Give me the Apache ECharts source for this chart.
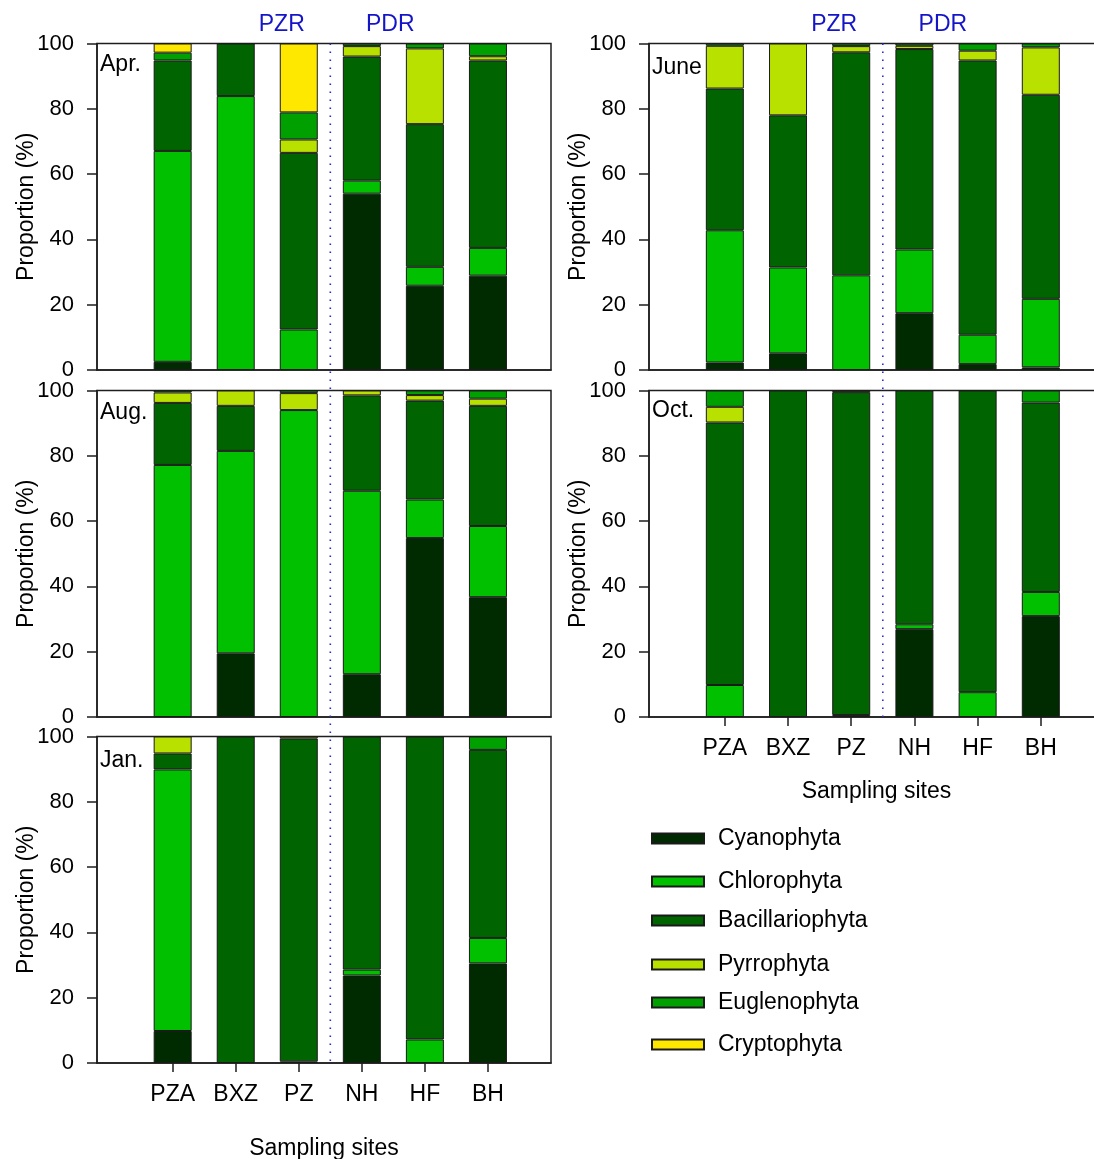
<!DOCTYPE html>
<html>
<head>
<meta charset="utf-8">
<script src="https://cdn.jsdelivr.net/npm/echarts@6/dist/echarts.min.js"></script>
<style>
html,body{margin:0;padding:0;background:#fff;}
#chart{width:1094px;height:1159px;}
</style>
</head>
<body>
<div id="chart"></div>
<script>
// ---------- data ----------
const sites = ['PZA', 'BXZ', 'PZ', 'NH', 'HF', 'BH'];
const groups = ['Cyanophyta', 'Chlorophyta', 'Bacillariophyta', 'Pyrrophyta', 'Euglenophyta', 'Cryptophyta'];
const months = ['Apr.', 'June', 'Aug.', 'Oct.', 'Jan.'];
const yTicks = [0, 20, 40, 60, 80, 100];
const regions = ['PZR', 'PDR'];

// values per site (PZA, BXZ, PZ, NH, HF, BH), in %
const aprCyanophyta      = [2.5, 0, 0, 54.0, 25.8, 28.9];
const aprChlorophyta     = [64.6, 83.9, 12.4, 4.0, 5.8, 8.5];
const aprBacillariophyta = [27.7, 16.1, 54.1, 38.0, 43.7, 57.4];
const aprPyrrophyta      = [0, 0, 4.1, 3.2, 23.2, 1.3];
const aprEuglenophyta    = [2.4, 0, 8.3, 0.8, 1.5, 3.9];
const aprCryptophyta     = [2.8, 0, 21.1, 0, 0, 0];

const junCyanophyta      = [2.3, 5.1, 0, 17.4, 1.8, 0.8];
const junChlorophyta     = [40.5, 26.3, 29.0, 19.5, 9.0, 21.0];
const junBacillariophyta = [43.4, 46.6, 68.3, 61.4, 84.0, 62.5];
const junPyrrophyta      = [13.1, 22.0, 1.9, 1.0, 3.0, 14.5];
const junEuglenophyta    = [0.7, 0, 0.8, 0.7, 2.2, 1.2];
const junCryptophyta     = [0, 0, 0, 0, 0, 0];

const augCyanophyta      = [0, 19.5, 0, 13.1, 54.8, 36.7];
const augChlorophyta     = [77.2, 62.0, 94.0, 56.2, 11.8, 21.8];
const augBacillariophyta = [19.0, 13.8, 0, 29.2, 30.3, 36.8];
const augPyrrophyta      = [3.2, 4.7, 5.2, 1.5, 1.7, 2.2];
const augEuglenophyta    = [0.6, 0, 0.8, 0, 1.4, 2.5];
const augCryptophyta     = [0, 0, 0, 0, 0, 0];

const octCyanophyta      = [0, 0, 0, 26.9, 0, 30.9];
const octChlorophyta     = [9.8, 0, 0.6, 1.5, 7.6, 7.4];
const octBacillariophyta = [80.4, 100, 98.9, 71.6, 92.4, 58.0];
const octPyrrophyta      = [4.8, 0, 0.5, 0, 0, 0];
const octEuglenophyta    = [5.0, 0, 0, 0, 0, 3.7];
const octCryptophyta     = [0, 0, 0, 0, 0, 0];

const janCyanophyta      = [9.8, 0, 0, 26.8, 0, 30.5];
const janChlorophyta     = [80.1, 0, 0.5, 1.8, 7.2, 7.8];
const janBacillariophyta = [4.9, 100, 98.9, 71.4, 92.8, 57.6];
const janPyrrophyta      = [5.2, 0, 0.6, 0, 0, 0];
const janEuglenophyta    = [0, 0, 0, 0, 0, 4.1];
const janCryptophyta     = [0, 0, 0, 0, 0, 0];

const monthData = [
  [aprCyanophyta, aprChlorophyta, aprBacillariophyta, aprPyrrophyta, aprEuglenophyta, aprCryptophyta],
  [junCyanophyta, junChlorophyta, junBacillariophyta, junPyrrophyta, junEuglenophyta, junCryptophyta],
  [augCyanophyta, augChlorophyta, augBacillariophyta, augPyrrophyta, augEuglenophyta, augCryptophyta],
  [octCyanophyta, octChlorophyta, octBacillariophyta, octPyrrophyta, octEuglenophyta, octCryptophyta],
  [janCyanophyta, janChlorophyta, janBacillariophyta, janPyrrophyta, janEuglenophyta, janCryptophyta]
];
const dividerAt = 2.5; // between PZ and NH

// ---------- styling / layout ----------
const FONT = '"Liberation Sans", Arial, sans-serif';
const colors = ['#002a00', '#00c000', '#006400', '#b9e100', '#00a000', '#ffe800'];
const layout = [
  {left: 97,  top: 43.5,  width: 454, height: 326.5, bottom: false, monthTop: 53,  nameGap: 0},
  {left: 649, top: 43.5,  width: 455, height: 326.5, bottom: false, monthTop: 56,  nameGap: 0},
  {left: 97,  top: 390.5, width: 454, height: 326.5, bottom: false, monthTop: 401, nameGap: 0},
  {left: 649, top: 390.5, width: 455, height: 326.5, bottom: true,  monthTop: 399, nameGap: 63},
  {left: 97,  top: 736.5, width: 454, height: 326.5, bottom: true,  monthTop: 749, nameGap: 74}
];
const legendRows = [839, 882, 921, 965, 1003, 1045];
const AX = '#1e1e1e';

const grids = [], xAxes = [], yAxes = [], series = [], titles = [];
layout.forEach((L, p) => {
  grids.push({left: L.left, top: L.top, width: L.width, height: L.height,
    show: true, borderColor: AX, borderWidth: 1.5, containLabel: false, outerBoundsMode: 'none'});
  xAxes.push({
    type: 'value', gridIndex: p, min: -1.2, max: 6,
    axisLine: {show: true, onZero: false, lineStyle: {color: AX, width: 1.5}},
    axisTick: {show: L.bottom, customValues: [0, 1, 2, 3, 4, 5], length: 9, lineStyle: {color: AX, width: 1.5}},
    axisLabel: {show: L.bottom, customValues: [0, 1, 2, 3, 4, 5], margin: 20, fontSize: 23, color: '#000', fontFamily: FONT,
      formatter: v => (sites[Math.round(v)] !== undefined && Math.abs(v - Math.round(v)) < 1e-6) ? sites[Math.round(v)] : ''},
    splitLine: {show: false},
    name: L.bottom ? 'Sampling sites' : '', nameLocation: 'middle', nameGap: L.nameGap, nameMoveOverlap: false,
    nameTextStyle: {fontSize: 23, color: '#000', fontFamily: FONT}
  });
  yAxes.push({
    type: 'value', gridIndex: p, min: yTicks[0], max: yTicks[yTicks.length - 1], interval: yTicks[1] - yTicks[0],
    axisLine: {show: true, onZero: false, lineStyle: {color: AX, width: 1.5}},
    axisTick: {show: true, length: 10, lineStyle: {color: AX, width: 1.5}},
    axisLabel: {margin: 23, fontSize: 22, color: '#000', fontFamily: FONT},
    splitLine: {show: false},
    name: 'Proportion (%)', nameLocation: 'middle', nameGap: 59, nameMoveOverlap: false,
    nameTextStyle: {fontSize: 23, color: '#000', fontFamily: FONT}
  });
  groups.forEach((g, k) => {
    series.push({
      type: 'bar', name: g, xAxisIndex: p, yAxisIndex: p, stack: 'm' + p,
      barWidth: 38, animation: false,
      encode: {x: 1, y: 0},
      itemStyle: {color: colors[k], borderColor: '#1a1a1a', borderWidth: 1},
      emphasis: {disabled: true},
      data: monthData[p][k].map((v, i) => [v > 0 ? v : null, i])
    });
  });
  titles.push({text: months[p], left: L.left + 3, top: L.monthTop, padding: 0,
    textStyle: {fontSize: 23, fontWeight: 'normal', color: '#000', fontFamily: FONT}});
});

const legends = groups.map((g, i) => ({
  data: [g], orient: 'vertical', left: 651, top: legendRows[i] - 12, padding: 0,
  itemWidth: 52, itemHeight: 10, icon: 'rect', selectedMode: false,
  textStyle: {fontSize: 23, color: '#000', fontFamily: FONT, padding: [0, 0, 0, 9]}
}));

const chart = echarts.init(document.getElementById('chart'), null, {renderer: 'canvas'});
chart.setOption({
  backgroundColor: '#fff',
  animation: false,
  title: titles,
  legend: legends,
  grid: grids,
  xAxis: xAxes,
  yAxis: yAxes,
  series: series
});

// divider lines and region labels, positioned through the axes
const graphics = [];
[[0, 4], [1, 3]].forEach(([topP, botP]) => {
  const x = chart.convertToPixel({xAxisIndex: topP}, dividerAt);
  const y1 = chart.convertToPixel({yAxisIndex: topP}, 100);
  const y2 = chart.convertToPixel({yAxisIndex: botP}, 0);
  graphics.push({type: 'line', silent: true, z: 10,
    shape: {x1: x, y1: y1, x2: x, y2: y2},
    style: {stroke: '#2a2ad2', lineWidth: 1.6, lineDash: [1.6, 6.4]}});
  const xl = chart.convertToPixel({xAxisIndex: topP}, dividerAt - 0.77);
  const xr = chart.convertToPixel({xAxisIndex: topP}, dividerAt + 0.95);
  graphics.push({type: 'text', x: xl, y: 13, silent: true,
    style: {text: regions[0], align: 'center', verticalAlign: 'top', fontSize: 23, fill: '#1414c8', fontFamily: FONT}});
  graphics.push({type: 'text', x: xr, y: 13, silent: true,
    style: {text: regions[1], align: 'center', verticalAlign: 'top', fontSize: 23, fill: '#1414c8', fontFamily: FONT}});
});
chart.setOption({graphic: graphics});
</script>
</body>
</html>
